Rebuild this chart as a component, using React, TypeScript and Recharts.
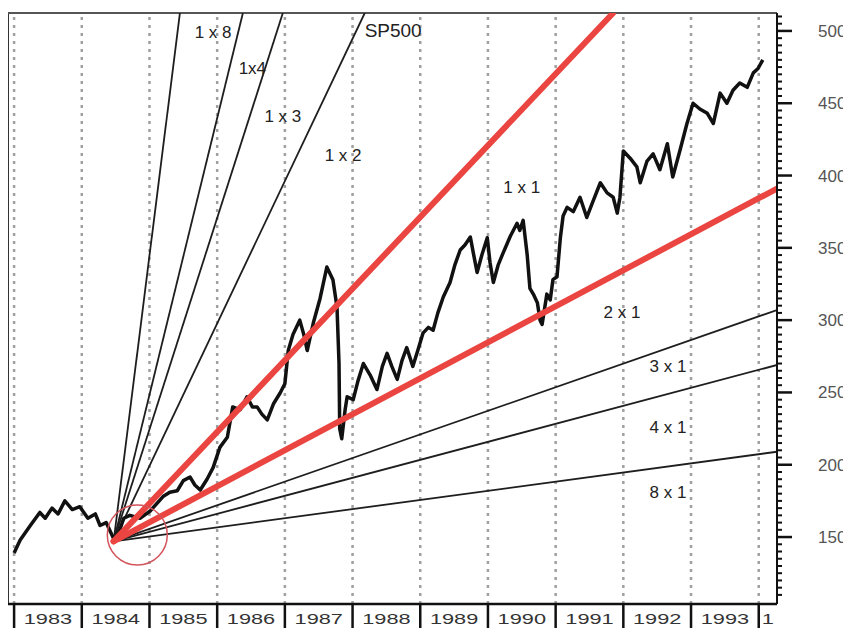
import React from "react";
import { LineChart, Line, XAxis, YAxis, ReferenceLine, ReferenceDot } from "recharts";

// S&P 500 (decimal year, index level)
const spxYear = [
  1983.0, 1983.09, 1983.24, 1983.38, 1983.46, 1983.56, 1983.65, 1983.75, 1983.86, 1983.97,
  1984.09, 1984.2, 1984.27, 1984.36, 1984.42, 1984.48, 1984.54, 1984.62, 1984.71, 1984.86,
  1985.01, 1985.2, 1985.3, 1985.41, 1985.5, 1985.6, 1985.67, 1985.75, 1985.85, 1985.94,
  1986.04, 1986.15, 1986.23, 1986.34, 1986.44, 1986.52, 1986.59, 1986.66, 1986.74, 1986.83,
  1986.93, 1987.0, 1987.05, 1987.12, 1987.22, 1987.28, 1987.33, 1987.42, 1987.52, 1987.62,
  1987.71, 1987.77, 1987.8, 1987.81, 1987.84, 1987.89, 1987.92, 1988.01, 1988.08, 1988.16,
  1988.26, 1988.36, 1988.44, 1988.51, 1988.58, 1988.66, 1988.73, 1988.8, 1988.89, 1988.97,
  1989.04, 1989.12, 1989.19, 1989.26, 1989.34, 1989.44, 1989.51, 1989.59, 1989.66, 1989.74,
  1989.79, 1989.84, 1989.91, 1989.99, 1990.03, 1990.08, 1990.15, 1990.22, 1990.33, 1990.43,
  1990.47, 1990.52, 1990.58, 1990.62, 1990.67, 1990.73, 1990.77, 1990.8, 1990.87, 1990.92,
  1990.96, 1991.02, 1991.07, 1991.11, 1991.17, 1991.26, 1991.36, 1991.46, 1991.55, 1991.66,
  1991.76, 1991.85, 1991.91, 1991.95, 1992.0, 1992.1, 1992.2, 1992.25, 1992.35, 1992.44,
  1992.54, 1992.65, 1992.73, 1992.84, 1992.94, 1993.03, 1993.13, 1993.24, 1993.33, 1993.43,
  1993.53, 1993.62, 1993.72, 1993.83, 1993.92, 1993.99, 1994.06,
];
const spxClose = [
  139, 148, 158, 167, 163, 170, 166, 175, 169, 171,
  163, 166, 158, 160, 154, 148, 152, 163, 165, 163,
  168, 178, 181, 182, 189, 191.5, 186, 182.5, 190, 198,
  212, 219, 240, 238, 247, 240, 240, 235, 231, 242,
  249.6, 256, 279, 290, 300, 290, 279, 298, 315, 336.7,
  328, 309, 270, 225, 218, 238, 247, 245, 258, 270,
  262, 252, 268, 277, 268, 259, 272, 281, 268, 280,
  291, 295, 293, 305, 316, 326, 338, 348.5, 352, 357.5,
  345, 333, 345, 357, 340, 326, 338, 346, 358, 367,
  362, 369, 345, 322, 318, 312, 300, 297, 318, 314,
  328, 330, 357, 372, 378, 375, 385, 371, 382, 395,
  388, 385, 374, 385, 417, 412, 406, 395, 410, 415,
  404, 422, 399, 418, 436, 450, 446, 443, 436, 457,
  450, 459, 464, 461, 471, 474, 480,
];

// Gann fan: common origin at the 1984 low, end points where each ray leaves the frame
const fanOriginYear = 1984.47;
const fanOriginValue = 147;
const fanNames = ["1x8", "1x4", "1x3", "1x2", "1x1", "2x1", "3x1", "4x1", "8x1"];
const fanEndYear = [1985.45, 1986.38, 1986.97, 1988.18, 1991.85, 1994.27, 1994.27, 1994.27, 1994.27];
const fanEndValue = [512.4, 512.4, 512.4, 512.4, 512.4, 391, 307, 269, 209];
const fanHighlighted = ["1x1", "2x1"];

const annotationText = ["1 x 8", "1x4", "1 x 3", "1 x 2", "SP500", "1 x 1", "2 x 1", "3 x 1", "4 x 1", "8 x 1"];
const annotationYear = [1985.94, 1986.52, 1986.97, 1987.86, 1988.6, 1990.5, 1991.98, 1992.66, 1992.66, 1992.66];
const annotationValue = [499.2, 474.3, 440.5, 414.2, 500.6, 392, 305.6, 267.6, 226, 181];

const yearTicks = [1983, 1984, 1985, 1986, 1987, 1988, 1989, 1990, 1991, 1992, 1993, 1994];
const yearLabels = ["1983", "1984", "1985", "1986", "1987", "1988", "1989", "1990", "1991", "1992", "1993", "1"];
const priceMajorTicks = [150, 200, 250, 300, 350, 400, 450, 500];
const priceTicks = Array.from({ length: 81 }, (_, i) => 110 + i * 5);

const X_MIN = 1982.91;
const X_MAX = 1994.27;
const Y_MIN = 103.7;
const Y_MAX = 512.4;

const WIDTH = 843;
const HEIGHT = 620;
const AXIS_W = 74;
const AXIS_H = 24;
const PX_PER_YEAR = (WIDTH - AXIS_W) / (X_MAX - X_MIN);
const FONT = '"Liberation Sans", Arial, sans-serif';

const spxData = spxYear.map((t, i) => ({ t, v: spxClose[i] }));

const YearTick = (props: any) => {
  const { x, y, payload } = props;
  const year = payload.value;
  const idx = yearTicks.indexOf(year);
  const span = Math.min(1, X_MAX - year);
  const cx = x + (span * PX_PER_YEAR) / 2;
  return (
    <g>
      <line x1={x} y1={y} x2={x} y2={y + 30} stroke="#111" strokeWidth={2.5} />
      {/* scanned labels are wide and squat */}
      <text
        transform={`translate(${cx}, ${y + 20}) scale(1.45, 1)`}
        textAnchor="middle"
        fontSize={15}
        fontFamily={FONT}
        fill="#333"
      >
        {yearLabels[idx]}
      </text>
    </g>
  );
};

const PriceTick = (props: any) => {
  const { x, y, payload } = props;
  const major = priceMajorTicks.includes(payload.value);
  return (
    <g>
      <line x1={x} y1={y} x2={x + (major ? 15 : 5)} y2={y} stroke="#111" strokeWidth={major ? 2.5 : 2} />
      {major && (
        <text x={x + 41} y={y + 6} fontSize={17} fontFamily={FONT} fill="#555">
          {payload.value}
        </text>
      )}
    </g>
  );
};

export default function App() {
  return (
    <LineChart width={WIDTH} height={HEIGHT} margin={{ top: 5, right: 0, bottom: 0, left: 0 }}>
      <XAxis
        dataKey="t"
        type="number"
        domain={[X_MIN, X_MAX]}
        ticks={yearTicks}
        interval={0}
        allowDataOverflow
        height={AXIS_H}
        tickLine={false}
        tickSize={0}
        tickMargin={0}
        axisLine={{ stroke: "#111", strokeWidth: 2.5 }}
        tick={<YearTick />}
      />
      <YAxis
        orientation="right"
        type="number"
        domain={[Y_MIN, Y_MAX]}
        ticks={priceTicks}
        interval={0}
        allowDataOverflow
        width={AXIS_W}
        tickLine={false}
        tickSize={0}
        tickMargin={0}
        axisLine={{ stroke: "#111", strokeWidth: 2 }}
        tick={<PriceTick />}
      />

      {yearTicks.map((yr) => (
        <ReferenceLine key={`g${yr}`} x={yr} stroke="#a0a0a0" strokeWidth={2.5} strokeDasharray="3 5" />
      ))}
      <ReferenceLine x={X_MIN} stroke="#333" strokeWidth={2} />
      <ReferenceLine y={Y_MAX} stroke="#555" strokeWidth={2} />

      {fanNames
        .filter((n) => !fanHighlighted.includes(n))
        .map((n) => {
          const i = fanNames.indexOf(n);
          return (
            <Line
              key={n}
              data={[
                { t: fanOriginYear, v: fanOriginValue },
                { t: fanEndYear[i], v: fanEndValue[i] },
              ]}
              dataKey="v"
              stroke="#1e1e1e"
              strokeWidth={1.8}
              dot={false}
              isAnimationActive={false}
            />
          );
        })}

      <Line
        data={spxData}
        dataKey="v"
        stroke="#111"
        strokeWidth={3.5}
        strokeLinejoin="round"
        dot={false}
        isAnimationActive={false}
      />

      {fanHighlighted.map((n) => {
        const i = fanNames.indexOf(n);
        return (
          <Line
            key={n}
            data={[
              { t: fanOriginYear, v: fanOriginValue },
              { t: fanEndYear[i], v: fanEndValue[i] },
            ]}
            dataKey="v"
            stroke="#ea4540"
            strokeWidth={6}
            strokeLinecap="round"
            dot={false}
            isAnimationActive={false}
          />
        );
      })}

      <ReferenceDot x={1984.82} y={151.4} r={30} fill="none" stroke="#d4545c" strokeWidth={1.5} />

      {annotationText.map((txt, i) => (
        <ReferenceDot
          key={txt}
          x={annotationYear[i]}
          y={annotationValue[i]}
          r={0}
          shape={(p: any) => (
            <text
              x={p.cx}
              y={p.cy}
              textAnchor="middle"
              dominantBaseline="central"
              fontSize={txt === "SP500" ? 19 : 17}
              fontFamily={FONT}
              fill="#222"
            >
              {txt}
            </text>
          )}
        />
      ))}
    </LineChart>
  );
}
